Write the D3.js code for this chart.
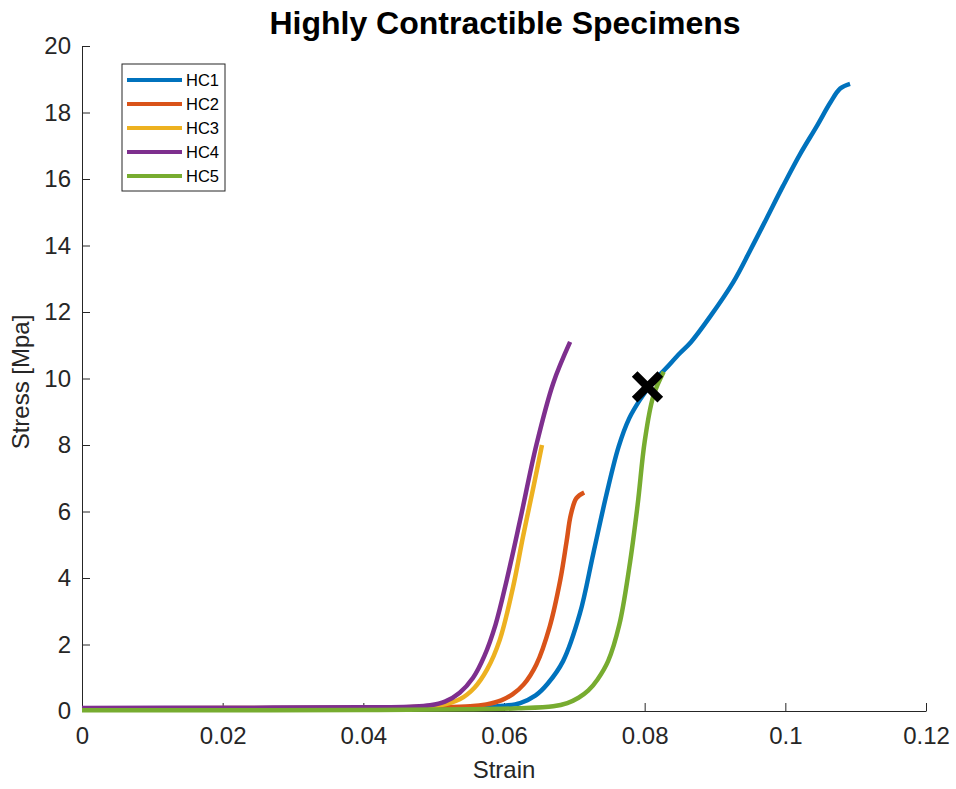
<!DOCTYPE html>
<html>
<head>
<meta charset="utf-8">
<script src="https://cdn.jsdelivr.net/npm/d3@7"></script>
<style>
  html, body { margin: 0; padding: 0; background: #fff; }
  svg { display: block; font-family: "Liberation Sans", Arial, sans-serif; }
</style>
</head>
<body>
<svg id="chart" width="956" height="789"></svg>
<script>
// Stress–strain curves for the five highly contractible specimens
const seriesNames = ["HC1", "HC2", "HC3", "HC4", "HC5"];
const seriesColors = ["#0072BD", "#D95319", "#EDB120", "#7E2F8E", "#77AC30"];

const hc1Strain = [0, 0.02, 0.04, 0.05, 0.056, 0.0600, 0.0623, 0.0645, 0.0662, 0.0684, 0.0708, 0.0727, 0.0746, 0.0763, 0.0778, 0.0793, 0.0810, 0.0830, 0.0850, 0.0866, 0.0893, 0.0926, 0.0950, 0.0973, 0.0997, 0.1021, 0.1045, 0.1064, 0.1078, 0.1092];
const hc1Stress = [0.06, 0.07, 0.08, 0.1, 0.12, 0.16, 0.24, 0.47, 0.82, 1.5, 2.94, 4.74, 6.54, 7.95, 8.8, 9.35, 9.85, 10.3, 10.76, 11.1, 11.86, 12.9, 13.85, 14.8, 15.8, 16.75, 17.6, 18.3, 18.72, 18.86];

const hc2Strain = [0, 0.02, 0.04, 0.05, 0.0552, 0.0575, 0.0596, 0.0612, 0.0628, 0.0646, 0.0665, 0.0680, 0.0689, 0.0695, 0.0703, 0.0714];
const hc2Stress = [0.07, 0.08, 0.09, 0.11, 0.14, 0.2, 0.32, 0.5, 0.8, 1.4, 2.54, 3.94, 5.1, 5.9, 6.4, 6.57];

const hc3Strain = [0, 0.02, 0.04, 0.047, 0.0509, 0.0537, 0.0558, 0.0576, 0.0594, 0.0613, 0.0627, 0.0642, 0.0654];
const hc3Stress = [0.08, 0.09, 0.1, 0.12, 0.17, 0.35, 0.7, 1.25, 2.14, 3.74, 5.24, 6.75, 8.0];

const hc4Strain = [0, 0.02, 0.04, 0.0466, 0.0495, 0.0516, 0.0537, 0.0556, 0.0572, 0.0588, 0.0604, 0.0623, 0.0646, 0.0670, 0.0694];
const hc4Stress = [0.09, 0.1, 0.11, 0.13, 0.17, 0.28, 0.55, 1.0, 1.65, 2.6, 3.95, 5.75, 8.0, 9.86, 11.1];

const hc5Strain = [0, 0.02, 0.04, 0.055, 0.062, 0.0670, 0.0690, 0.0706, 0.0720, 0.0733, 0.0748, 0.0764, 0.0778, 0.0790, 0.0800, 0.0812, 0.0827];
const hc5Stress = [0.02, 0.02, 0.03, 0.05, 0.08, 0.14, 0.24, 0.4, 0.62, 0.95, 1.5, 2.6, 4.3, 6.2, 8.1, 9.45, 10.2];

// Failure marker
const markerStrain = [0.0804];
const markerStress = [9.75];

const xTicks = [0, 0.02, 0.04, 0.06, 0.08, 0.1, 0.12];
const xTickLabels = ["0", "0.02", "0.04", "0.06", "0.08", "0.1", "0.12"];
const yTicks = [0, 2, 4, 6, 8, 10, 12, 14, 16, 18, 20];

const strainSets = [hc1Strain, hc2Strain, hc3Strain, hc4Strain, hc5Strain];
const stressSets = [hc1Stress, hc2Stress, hc3Stress, hc4Stress, hc5Stress];

const svg = d3.select("#chart");
const margin = { left: 82, right: 30, top: 46, bottom: 78 };
const W = 956, H = 789;

const x = d3.scaleLinear().domain([0, 0.12]).range([margin.left, W - margin.right]);
const y = d3.scaleLinear().domain([0, 20]).range([H - margin.bottom, margin.top]);

const axisColor = "#262626";

// x axis (ticks pointing inward)
const xAxis = svg.append("g")
  .attr("transform", `translate(0,${y(0)})`)
  .call(d3.axisBottom(x).tickValues(xTicks).tickFormat((d, i) => xTickLabels[i]).tickSizeInner(-8).tickSizeOuter(0).tickPadding(16));
xAxis.select(".domain").attr("stroke", axisColor);
xAxis.selectAll(".tick line").attr("stroke", axisColor);
xAxis.selectAll(".tick text").attr("fill", axisColor).attr("font-size", 24);

// y axis
const yAxis = svg.append("g")
  .attr("transform", `translate(${x(0)},0)`)
  .call(d3.axisLeft(y).tickValues(yTicks).tickSizeInner(-8).tickSizeOuter(0).tickPadding(11));
yAxis.select(".domain").attr("stroke", axisColor);
yAxis.selectAll(".tick line").attr("stroke", axisColor);
yAxis.selectAll(".tick text").attr("fill", axisColor).attr("font-size", 24);

// curves
const line = d3.line().x(d => x(d[0])).y(d => y(d[1])).curve(d3.curveCatmullRom.alpha(0.5));
seriesNames.forEach((name, i) => {
  const pts = strainSets[i].map((s, j) => [s, stressSets[i][j]]);
  svg.append("path")
    .datum(pts)
    .attr("fill", "none")
    .attr("stroke", seriesColors[i])
    .attr("stroke-width", 4.5)
    .attr("stroke-linejoin", "round")
    .attr("d", line);
});

// failure marker, drawn above the curves
markerStrain.forEach((s, i) => {
  const cx = x(s), cy = y(markerStress[i]), r = 10;
  svg.append("path")
    .attr("d", `M${cx - r},${cy - r}L${cx + r},${cy + r}M${cx - r},${cy + r}L${cx + r},${cy - r}`)
    .attr("stroke", "#000")
    .attr("stroke-width", 8)
    .attr("stroke-linecap", "square");
});

// title and axis labels
svg.append("text")
  .attr("x", 505).attr("y", 34)
  .attr("text-anchor", "middle")
  .attr("font-size", 32).attr("font-weight", "bold")
  .attr("fill", "#000")
  .text("Highly Contractible Specimens");

svg.append("text")
  .attr("x", 504).attr("y", 778)
  .attr("text-anchor", "middle")
  .attr("font-size", 24).attr("fill", axisColor)
  .text("Strain");

svg.append("text")
  .attr("transform", `translate(29,382) rotate(-90)`)
  .attr("text-anchor", "middle")
  .attr("font-size", 24).attr("fill", axisColor)
  .text("Stress [Mpa]");

// legend
const lg = svg.append("g");
lg.append("rect")
  .attr("x", 122).attr("y", 64).attr("width", 103).attr("height", 127)
  .attr("fill", "#fff").attr("stroke", axisColor).attr("stroke-width", 1);
seriesNames.forEach((name, i) => {
  const ly = 80 + i * 24;
  lg.append("line")
    .attr("x1", 127).attr("x2", 182).attr("y1", ly).attr("y2", ly)
    .attr("stroke", seriesColors[i]).attr("stroke-width", 4);
  lg.append("text")
    .attr("x", 186).attr("y", ly + 6)
    .attr("font-size", 16.5).attr("fill", "#000")
    .text(name);
});
</script>
</body>
</html>
